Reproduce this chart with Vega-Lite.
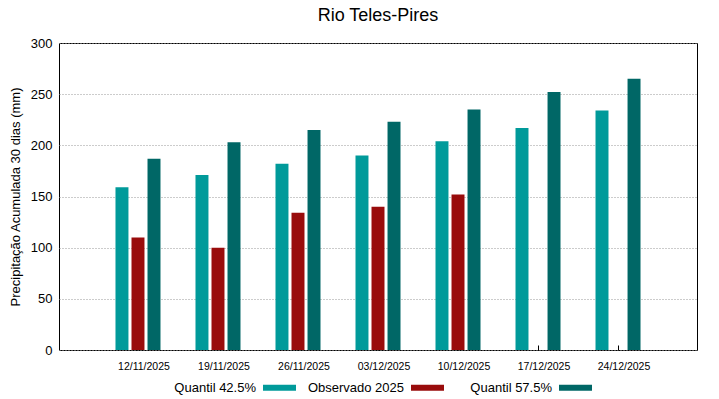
{
  "$schema": "https://vega.github.io/schema/vega-lite/v6.json",
  "autosize": "none",
  "width": 638,
  "height": 307,
  "padding": {"left": 59, "top": 43, "right": 22, "bottom": 49},
  "background": "white",
  "title": {
    "text": "Rio Teles-Pires",
    "font": "Liberation Sans",
    "fontSize": 18,
    "fontWeight": "normal",
    "color": "black",
    "anchor": "middle",
    "offset": 12
  },
  "config": {
    "font": "Liberation Sans",
    "view": {"stroke": "black", "strokeWidth": 1},
    "axis": {
      "labelFont": "Liberation Sans",
      "titleFont": "Liberation Sans",
      "labelColor": "black",
      "titleColor": "black",
      "domainColor": "black"
    }
  },
  "data": {
    "values": [
      {"date": "12/11/2025", "serie": "Quantil 42.5%", "value": 159},
      {"date": "12/11/2025", "serie": "Observado 2025", "value": 110},
      {"date": "12/11/2025", "serie": "Quantil 57.5%", "value": 187},
      {"date": "19/11/2025", "serie": "Quantil 42.5%", "value": 171},
      {"date": "19/11/2025", "serie": "Observado 2025", "value": 100},
      {"date": "19/11/2025", "serie": "Quantil 57.5%", "value": 203},
      {"date": "26/11/2025", "serie": "Quantil 42.5%", "value": 182},
      {"date": "26/11/2025", "serie": "Observado 2025", "value": 134},
      {"date": "26/11/2025", "serie": "Quantil 57.5%", "value": 215},
      {"date": "03/12/2025", "serie": "Quantil 42.5%", "value": 190},
      {"date": "03/12/2025", "serie": "Observado 2025", "value": 140},
      {"date": "03/12/2025", "serie": "Quantil 57.5%", "value": 223},
      {"date": "10/12/2025", "serie": "Quantil 42.5%", "value": 204},
      {"date": "10/12/2025", "serie": "Observado 2025", "value": 152},
      {"date": "10/12/2025", "serie": "Quantil 57.5%", "value": 235},
      {"date": "17/12/2025", "serie": "Quantil 42.5%", "value": 217},
      {"date": "17/12/2025", "serie": "Observado 2025", "value": null},
      {"date": "17/12/2025", "serie": "Quantil 57.5%", "value": 252},
      {"date": "24/12/2025", "serie": "Quantil 42.5%", "value": 234},
      {"date": "24/12/2025", "serie": "Observado 2025", "value": null},
      {"date": "24/12/2025", "serie": "Quantil 57.5%", "value": 265}
    ]
  },
  "mark": {"type": "bar"},
  "encoding": {
    "x": {
      "field": "date",
      "type": "ordinal",
      "sort": null,
      "scale": {"paddingInner": 0.4375, "paddingOuter": 0.706},
      "axis": {
        "title": null,
        "labelAngle": 0,
        "labelFontSize": 10.5,
        "labelOffset": 6,
        "tickSize": -5,
        "tickColor": "black",
        "labelPadding": 16,
        "domain": false
      }
    },
    "xOffset": {
      "field": "serie",
      "type": "nominal",
      "sort": ["Quantil 42.5%", "Observado 2025", "Quantil 57.5%"],
      "scale": {"paddingInner": 0.19, "paddingOuter": 0}
    },
    "y": {
      "field": "value",
      "type": "quantitative",
      "scale": {"domain": [0, 300], "nice": false},
      "axis": {
        "title": "Precipitação Acumulada 30 dias (mm)",
        "titleFontSize": 13,
        "titleFontWeight": "normal",
        "titlePadding": 8,
        "values": [0, 50, 100, 150, 200, 250, 300],
        "labelFontSize": 13,
        "tickSize": 0,
        "labelPadding": 7,
        "grid": true,
        "gridColor": "#999999",
        "gridDash": [1, 2],
        "gridWidth": 1,
        "domain": false
      }
    },
    "color": {
      "field": "serie",
      "type": "nominal",
      "sort": ["Quantil 42.5%", "Observado 2025", "Quantil 57.5%"],
      "scale": {
        "domain": ["Quantil 42.5%", "Observado 2025", "Quantil 57.5%"],
        "range": ["#009a9a", "#990c0c", "#006766"]
      },
      "legend": {
        "title": null,
        "orient": "none",
        "direction": "horizontal",
        "legendX": 204,
        "legendY": 328,
        "padding": 0,
        "gridAlign": "all",
        "labelFont": "Liberation Sans",
        "labelFontSize": 13,
        "labelColor": "black",
        "labelAlign": "right",
        "labelOffset": -40,
        "symbolType": "M-1,-0.18L1,-0.18L1,0.18L-1,0.18Z",
        "symbolSize": 1089,
        "symbolStrokeWidth": 0,
        "columnPadding": 11
      }
    }
  }
}
